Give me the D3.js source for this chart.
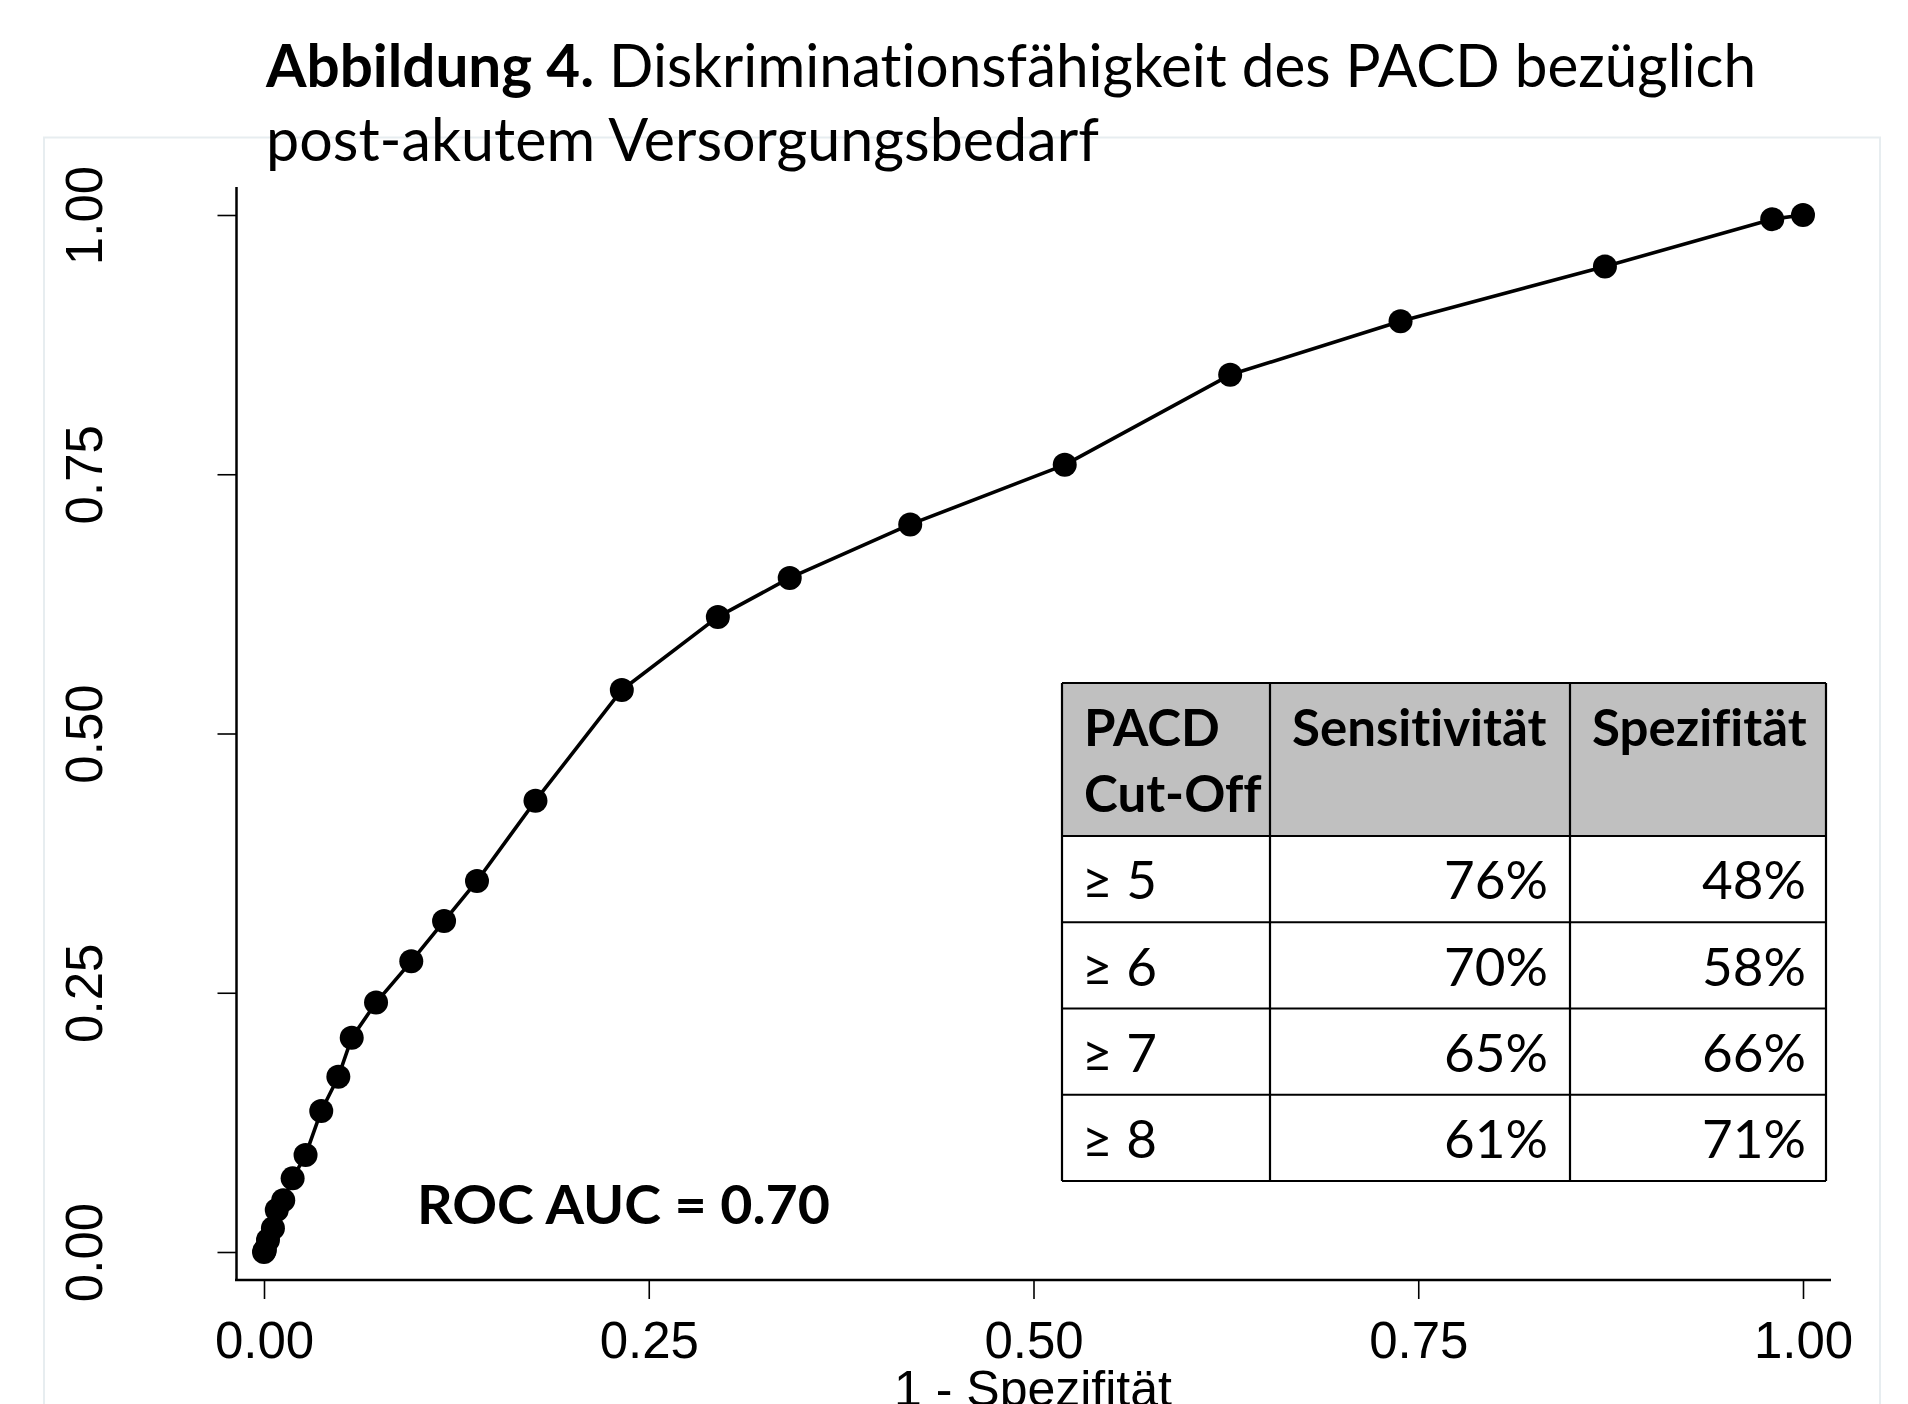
<!DOCTYPE html>
<html>
<head>
<meta charset="utf-8">
<script src="https://cdn.jsdelivr.net/npm/d3@7"></script>
<style>
  body { margin: 0; background: #fff; }
  svg { display: block; }
  text { font-variant-ligatures: none; font-feature-settings: "liga" 0, "dlig" 0; }
</style>
</head>
<body>
<svg id="chart"></svg>
<script>
// ROC curve points (1 - specificity, sensitivity)
const fpr = [0, 0.0006, 0.0026, 0.0058, 0.0083, 0.0125, 0.0186, 0.027, 0.0372, 0.0483, 0.057, 0.0728,
             0.0957, 0.117, 0.1384, 0.1764, 0.2325, 0.2949, 0.3416, 0.4199, 0.5203, 0.6278, 0.7385,
             0.8713, 0.980, 1.0];
const tpr = [0, 0.002, 0.0116, 0.023, 0.0405, 0.050, 0.071, 0.0935, 0.136, 0.169, 0.2065, 0.2405,
             0.2803, 0.3191, 0.3578, 0.4352, 0.542, 0.6124, 0.650, 0.7016, 0.7591, 0.8459, 0.8976,
             0.9503, 0.996, 1.0];
const tickValues = [0, 0.25, 0.5, 0.75, 1];

// table content
const cutoffs = ["≥ 5", "≥ 6", "≥ 7", "≥ 8"];
const sensitivity = [76, 70, 65, 61];
const specificity = [48, 58, 66, 71];
const tableHeader = [["PACD", "Cut-Off"], ["Sensitivität"], ["Spezifität"]];

const W = 1908, H = 1404;
const svg = d3.select("#chart").attr("width", W).attr("height", H);

const calibri = "Lato, 'Open Sans', sans-serif";
const helv = "'Liberation Sans', Arial, sans-serif";

// faint graph region outline
svg.append("rect")
    .attr("x", 44).attr("y", 137.5)
    .attr("width", 1836).attr("height", 1300)
    .attr("fill", "none")
    .attr("stroke", "#e7edf0")
    .attr("stroke-width", 2);

// title
const t1 = svg.append("text")
    .attr("x", 266).attr("y", 87)
    .attr("font-family", calibri).attr("font-size", 60)
    .attr("textLength", 1490).attr("lengthAdjust", "spacingAndGlyphs");
t1.append("tspan").attr("font-weight", "bold").text("Abbildung 4.");
t1.append("tspan").text(" Diskriminationsfähigkeit des PACD bezüglich");

svg.append("text")
    .attr("x", 266).attr("y", 161)
    .attr("font-family", calibri).attr("font-size", 60)
    .attr("textLength", 833).attr("lengthAdjust", "spacingAndGlyphs")
    .text("post-akutem Versorgungsbedarf");

// scales
const x = d3.scaleLinear().domain([0, 1]).range([264, 1803]);
const y = d3.scaleLinear().domain([0, 1]).range([1252, 215]);

// axes lines
svg.append("line")
    .attr("x1", 236.5).attr("x2", 236.5).attr("y1", 187).attr("y2", 1281)
    .attr("stroke", "#000").attr("stroke-width", 2.5);
svg.append("line")
    .attr("x1", 235).attr("x2", 1831).attr("y1", 1280).attr("y2", 1280)
    .attr("stroke", "#000").attr("stroke-width", 2.5);

const xAxis = svg.append("g")
    .attr("transform", "translate(0,1280)")
    .call(d3.axisBottom(x).tickValues(tickValues).tickFormat(d3.format(".2f")).tickSize(19).tickSizeOuter(0));
xAxis.select(".domain").remove();
xAxis.selectAll("line").attr("stroke-width", 1.6);
xAxis.selectAll("text")
    .attr("y", 78).attr("dy", null)
    .attr("font-family", helv).attr("font-size", 51).attr("fill", "#000");

const yAxis = svg.append("g")
    .attr("transform", "translate(236.5,0)")
    .call(d3.axisLeft(y).tickValues(tickValues).tickFormat(d3.format(".2f")).tickSize(19).tickSizeOuter(0));
yAxis.select(".domain").remove();
yAxis.selectAll("line").attr("stroke-width", 1.6);
yAxis.selectAll("text")
    .attr("x", 0).attr("y", 0).attr("dy", null)
    .attr("text-anchor", "middle")
    .attr("transform", "translate(-135,0) rotate(-90)")
    .attr("font-family", helv).attr("font-size", 51).attr("fill", "#000");

// x axis title (cut by the bottom edge, as in the original)
svg.append("text")
    .attr("x", 1033).attr("y", 1406)
    .attr("text-anchor", "middle")
    .attr("font-family", helv).attr("font-size", 50)
    .text("1 - Spezifität");

// ROC curve
const pts = fpr.map((d, i) => ({ fx: d, ty: tpr[i] }));
svg.append("path")
    .datum(pts)
    .attr("fill", "none").attr("stroke", "#000").attr("stroke-width", 3.6)
    .attr("stroke-linejoin", "round")
    .attr("d", d3.line().x(d => x(d.fx)).y(d => y(d.ty)));
svg.selectAll("circle.pt")
    .data(pts)
    .enter().append("circle")
    .attr("class", "pt")
    .attr("cx", d => x(d.fx)).attr("cy", d => y(d.ty))
    .attr("r", 12).attr("fill", "#000");

// AUC label
svg.append("text")
    .attr("x", 417).attr("y", 1224)
    .attr("font-family", calibri).attr("font-size", 54).attr("font-weight", "bold")
    .attr("textLength", 413).attr("lengthAdjust", "spacingAndGlyphs")
    .text("ROC AUC = 0.70");

// table
const colEdges = [1062, 1270, 1570, 1826];
const tableTop = 683, headerBottom = 836, tableBottom = 1181;
const rowScale = d3.scaleBand().domain(cutoffs).range([headerBottom, tableBottom]);
const tbl = svg.append("g");

tbl.append("rect")
    .attr("x", colEdges[0]).attr("y", tableTop)
    .attr("width", colEdges[3] - colEdges[0]).attr("height", headerBottom - tableTop)
    .attr("fill", "#c0c0c0");

tableHeader.forEach((lines, c) => {
    lines.forEach((ln, k) => {
        tbl.append("text")
            .attr("x", colEdges[c] + 22).attr("y", 746 + k * 66)
            .attr("font-family", calibri).attr("font-size", 51).attr("font-weight", "bold")
            .text(ln);
    });
});

cutoffs.forEach((c, i) => {
    const base = rowScale(c) + rowScale.bandwidth() - 23;
    tbl.append("text")
        .attr("x", colEdges[0] + 20).attr("y", base)
        .attr("font-family", calibri).attr("font-size", 53)
        .text(c);
    tbl.append("text")
        .attr("x", colEdges[2] - 22).attr("y", base)
        .attr("text-anchor", "end")
        .attr("font-family", calibri).attr("font-size", 53)
        .text(sensitivity[i] + "%");
    tbl.append("text")
        .attr("x", colEdges[3] - 20).attr("y", base)
        .attr("text-anchor", "end")
        .attr("font-family", calibri).attr("font-size", 53)
        .text(specificity[i] + "%");
});

// grid lines of table
const hLines = [tableTop, headerBottom].concat(cutoffs.map(c => rowScale(c) + rowScale.bandwidth()));
tbl.selectAll("line.h")
    .data(hLines)
    .enter().append("line")
    .attr("x1", colEdges[0]).attr("x2", colEdges[3])
    .attr("y1", d => d).attr("y2", d => d)
    .attr("stroke", "#000").attr("stroke-width", 2.2);
tbl.selectAll("line.v")
    .data(colEdges)
    .enter().append("line")
    .attr("x1", d => d).attr("x2", d => d)
    .attr("y1", tableTop).attr("y2", tableBottom)
    .attr("stroke", "#000").attr("stroke-width", 2.2);
</script>
</body>
</html>
